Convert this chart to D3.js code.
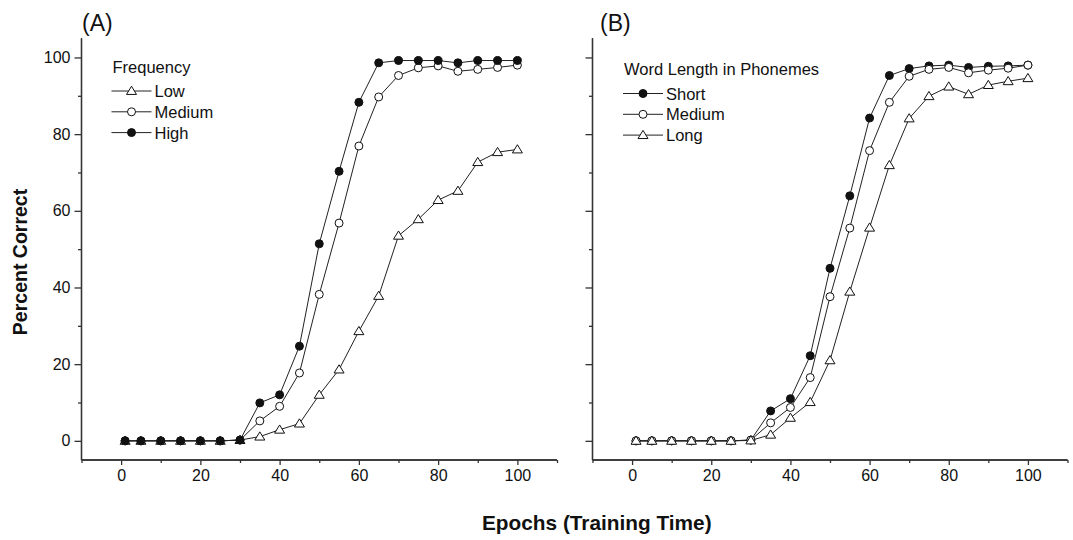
<!DOCTYPE html>
<html>
<head>
<meta charset="utf-8">
<script src="https://cdn.jsdelivr.net/npm/d3@7"></script>
<style>
  html, body { margin: 0; padding: 0; background: #fff; }
  svg { display: block; font-family: "Liberation Sans", Arial, Helvetica, sans-serif; }
</style>
</head>
<body>
<svg id="chart" width="1073" height="540"></svg>
<script>
// ---- data ----
const epochs = [1, 5, 10, 15, 20, 25, 30, 35, 40, 45, 50, 55, 60, 65, 70, 75, 80, 85, 90, 95, 100];

// Panel A: Frequency
const freqLow    = [0, 0, 0, 0, 0, 0, 0.2, 1.1, 2.9, 4.5, 12.0, 18.6, 28.6, 37.8, 53.5, 57.8, 62.8, 65.2, 72.7, 75.3, 76.0];
const freqMedium = [0, 0, 0, 0, 0, 0, 0.2, 5.2, 9.0, 17.7, 38.2, 56.8, 76.9, 89.7, 95.3, 97.3, 97.8, 96.4, 96.9, 97.4, 98.0];
const freqHigh   = [0, 0, 0, 0, 0, 0, 0.2, 9.9, 12.0, 24.7, 51.4, 70.3, 88.3, 98.6, 99.2, 99.2, 99.2, 98.6, 99.2, 99.2, 99.2];

// Panel B: Word length in phonemes
const lenShort  = [0, 0, 0, 0, 0, 0, 0.2, 7.8, 11.0, 22.2, 45.0, 63.9, 84.2, 95.3, 97.1, 97.8, 98.0, 97.4, 97.7, 97.8, 98.0];
const lenMedium = [0, 0, 0, 0, 0, 0, 0.2, 4.7, 8.7, 16.5, 37.6, 55.5, 75.7, 88.3, 95.1, 96.9, 97.4, 96.0, 96.7, 97.2, 98.0];
const lenLong   = [0, 0, 0, 0, 0, 0, 0.1, 1.6, 6.0, 10.1, 21.0, 38.9, 55.6, 71.9, 84.1, 89.9, 92.4, 90.4, 92.8, 93.8, 94.6];

const xMajorTicks = [0, 20, 40, 60, 80, 100];
const xMinorTicks = [-10, 10, 30, 50, 70, 90, 110];
const yMajorTicks = [0, 20, 40, 60, 80, 100];
const yMinorTicks = [10, 30, 50, 70, 90];

const panelLabels = ["(A)", "(B)"];
const legendTitles = ["Frequency", "Word Length in Phonemes"];
const seriesA = [
  { name: "Low", values: freqLow, marker: "triangle" },
  { name: "Medium", values: freqMedium, marker: "open" },
  { name: "High", values: freqHigh, marker: "filled" }
];
const seriesB = [
  { name: "Short", values: lenShort, marker: "filled" },
  { name: "Medium", values: lenMedium, marker: "open" },
  { name: "Long", values: lenLong, marker: "triangle" }
];
const yTitle = "Percent Correct";
const xTitle = "Epochs (Training Time)";

// ---- drawing ----
const svg = d3.select("#chart");
const ink = "#111";
const lineInk = "#222";

function drawMarker(g, type, x, y) {
  if (type === "triangle") {
    const s = 5, h = 8.2;
    g.append("path")
      .attr("d", `M${x},${y - h * 0.58}L${x + s},${y + h * 0.42}L${x - s},${y + h * 0.42}Z`)
      .attr("fill", "#fff").attr("stroke", ink).attr("stroke-width", 1);
  } else {
    g.append("circle")
      .attr("cx", x).attr("cy", y).attr("r", 4)
      .attr("fill", type === "filled" ? ink : "#fff")
      .attr("stroke", ink).attr("stroke-width", 1);
  }
}

function drawPanel(cfg) {
  const x = d3.scaleLinear().domain([-10, 110]).range([cfg.x0, cfg.x1]);
  const y = d3.scaleLinear().domain([-5, 105]).range([cfg.yBottom, cfg.yTop]);
  const g = svg.append("g");

  const xAxisMajor = d3.axisBottom(x).tickValues(xMajorTicks).tickSize(5).tickPadding(5).tickFormat(d3.format("d"));
  const xAxisMinor = d3.axisBottom(x).tickValues(xMinorTicks).tickSize(3).tickFormat("");
  const yAxisMajor = d3.axisLeft(y).tickValues(yMajorTicks).tickSize(7).tickPadding(4)
    .tickFormat(cfg.yLabels ? d3.format("d") : "");
  const yAxisMinor = d3.axisLeft(y).tickValues(yMinorTicks).tickSize(3.5).tickFormat("");

  function styleAxis(sel) {
    sel.select(".domain").attr("stroke", "#333").attr("stroke-width", 1.3);
    sel.selectAll(".tick line").attr("stroke", "#333").attr("stroke-width", 1.3);
    sel.selectAll(".tick text").attr("fill", ink).style("font-size", "16px")
      .style("font-family", '"Liberation Sans", Arial, sans-serif');
  }
  g.append("g").attr("transform", `translate(0,${cfg.yBottom})`).call(xAxisMinor).call(styleAxis)
    .select(".domain").attr("d", `M${cfg.x0},0H${cfg.x1}`);
  g.append("g").attr("transform", `translate(0,${cfg.yBottom})`).call(xAxisMajor).call(styleAxis)
    .select(".domain").attr("d", `M${cfg.x0},0H${cfg.x1}`);
  g.append("g").attr("transform", `translate(${cfg.x0},0)`).call(yAxisMinor).call(styleAxis)
    .select(".domain").attr("d", `M0,${cfg.yBottom}V${cfg.yTop}`);
  g.append("g").attr("transform", `translate(${cfg.x0},0)`).call(yAxisMajor).call(styleAxis)
    .select(".domain").attr("d", `M0,${cfg.yBottom}V${cfg.yTop}`);

  const line = d3.line().x((d, i) => x(epochs[i])).y(d => y(d));
  cfg.series.forEach(s => {
    g.append("path").datum(s.values).attr("d", line)
      .attr("fill", "none").attr("stroke", lineInk).attr("stroke-width", 1);
  });
  cfg.series.forEach(s => {
    const mg = g.append("g");
    s.values.forEach((v, i) => drawMarker(mg, s.marker, x(epochs[i]), y(v)));
  });

  svg.append("text").attr("x", cfg.labelX).attr("y", 31).attr("fill", ink)
    .style("font-size", "23px").text(cfg.label);

  const lg = svg.append("g");
  lg.append("text").attr("x", cfg.legX + 1).attr("y", cfg.legY).attr("fill", ink)
    .style("font-size", "16.5px").text(cfg.legTitle);
  const order = cfg.legendOrder.map(i => cfg.series[i]);
  order.forEach((s, k) => {
    const yy = cfg.legY + 18.5 + k * 20.8;
    lg.append("line").attr("x1", cfg.legX).attr("x2", cfg.legX + 40)
      .attr("y1", yy).attr("y2", yy).attr("stroke", lineInk).attr("stroke-width", 1);
    drawMarker(lg, s.marker, cfg.legX + 20, yy);
    lg.append("text").attr("x", cfg.legX + 43).attr("y", yy + 6).attr("fill", ink)
      .style("font-size", "16.5px").text(s.name);
  });
}

drawPanel({
  x0: 81.5, x1: 557, yTop: 38.3, yBottom: 460, yLabels: true,
  series: seriesA, legendOrder: [0, 1, 2],
  label: panelLabels[0], labelX: 82,
  legTitle: legendTitles[0], legX: 111.5, legY: 72.5
});
drawPanel({
  x0: 592.5, x1: 1067.5, yTop: 38.3, yBottom: 460, yLabels: false,
  series: seriesB, legendOrder: [0, 1, 2],
  label: panelLabels[1], labelX: 600,
  legTitle: legendTitles[1], legX: 623, legY: 75
});

svg.append("text").attr("transform", "translate(26.5,262) rotate(-90)")
  .attr("text-anchor", "middle").attr("fill", ink)
  .style("font-size", "19.5px").style("font-weight", "bold").text(yTitle);
svg.append("text").attr("x", 482).attr("y", 530).attr("fill", ink)
  .style("font-size", "20.8px").style("font-weight", "bold").text(xTitle);
</script>
</body>
</html>
